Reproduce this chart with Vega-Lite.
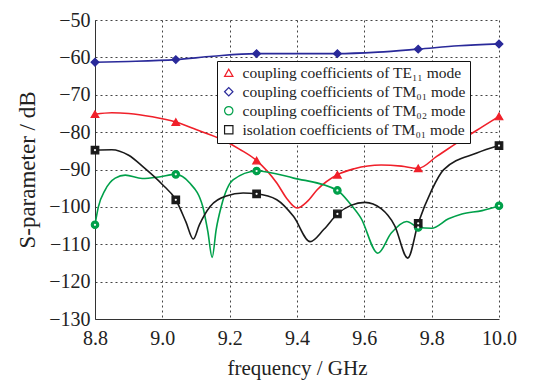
{
  "$schema": "https://vega.github.io/schema/vega-lite/v6.json",
  "width": 404,
  "height": 299,
  "autosize": "none",
  "padding": {"left": 95, "top": 20, "right": 49, "bottom": 66},
  "background": "white",
  "config": {
    "view": {"stroke": null},
    "font": "Liberation Serif"
  },
  "datasets": {
    "curve": [
      {"series": "coupling coefficients of TE₁₁ mode", "f": 8.8, "s": -75.2},
      {"series": "coupling coefficients of TE₁₁ mode", "f": 8.85, "s": -74.8},
      {"series": "coupling coefficients of TE₁₁ mode", "f": 8.9, "s": -75.0},
      {"series": "coupling coefficients of TE₁₁ mode", "f": 8.97, "s": -75.9},
      {"series": "coupling coefficients of TE₁₁ mode", "f": 9.04, "s": -77.3},
      {"series": "coupling coefficients of TE₁₁ mode", "f": 9.1, "s": -79.3},
      {"series": "coupling coefficients of TE₁₁ mode", "f": 9.18, "s": -82.1},
      {"series": "coupling coefficients of TE₁₁ mode", "f": 9.23, "s": -84.6},
      {"series": "coupling coefficients of TE₁₁ mode", "f": 9.28, "s": -87.6},
      {"series": "coupling coefficients of TE₁₁ mode", "f": 9.34, "s": -93.6},
      {"series": "coupling coefficients of TE₁₁ mode", "f": 9.37, "s": -97.8},
      {"series": "coupling coefficients of TE₁₁ mode", "f": 9.4, "s": -100.3},
      {"series": "coupling coefficients of TE₁₁ mode", "f": 9.43, "s": -98.6},
      {"series": "coupling coefficients of TE₁₁ mode", "f": 9.46, "s": -95.4},
      {"series": "coupling coefficients of TE₁₁ mode", "f": 9.52, "s": -91.4},
      {"series": "coupling coefficients of TE₁₁ mode", "f": 9.57, "s": -89.8},
      {"series": "coupling coefficients of TE₁₁ mode", "f": 9.65, "s": -88.8},
      {"series": "coupling coefficients of TE₁₁ mode", "f": 9.71, "s": -89.1},
      {"series": "coupling coefficients of TE₁₁ mode", "f": 9.76, "s": -89.7},
      {"series": "coupling coefficients of TE₁₁ mode", "f": 9.815, "s": -86.5},
      {"series": "coupling coefficients of TE₁₁ mode", "f": 9.89, "s": -82.0},
      {"series": "coupling coefficients of TE₁₁ mode", "f": 9.95, "s": -78.6},
      {"series": "coupling coefficients of TE₁₁ mode", "f": 10.0, "s": -75.8},

      {"series": "coupling coefficients of TM₀₁ mode", "f": 8.8, "s": -61.3},
      {"series": "coupling coefficients of TM₀₁ mode", "f": 8.9, "s": -61.1},
      {"series": "coupling coefficients of TM₀₁ mode", "f": 9.04, "s": -60.6},
      {"series": "coupling coefficients of TM₀₁ mode", "f": 9.15, "s": -59.7},
      {"series": "coupling coefficients of TM₀₁ mode", "f": 9.28, "s": -59.0},
      {"series": "coupling coefficients of TM₀₁ mode", "f": 9.4, "s": -59.0},
      {"series": "coupling coefficients of TM₀₁ mode", "f": 9.52, "s": -59.0},
      {"series": "coupling coefficients of TM₀₁ mode", "f": 9.64, "s": -58.6},
      {"series": "coupling coefficients of TM₀₁ mode", "f": 9.76, "s": -57.8},
      {"series": "coupling coefficients of TM₀₁ mode", "f": 9.88, "s": -56.9},
      {"series": "coupling coefficients of TM₀₁ mode", "f": 10.0, "s": -56.4},

      {"series": "coupling coefficients of TM₀₂ mode", "f": 8.8, "s": -104.8},
      {"series": "coupling coefficients of TM₀₂ mode", "f": 8.81, "s": -100.0},
      {"series": "coupling coefficients of TM₀₂ mode", "f": 8.83, "s": -95.5},
      {"series": "coupling coefficients of TM₀₂ mode", "f": 8.86, "s": -92.3},
      {"series": "coupling coefficients of TM₀₂ mode", "f": 8.89, "s": -91.5},
      {"series": "coupling coefficients of TM₀₂ mode", "f": 8.94, "s": -92.4},
      {"series": "coupling coefficients of TM₀₂ mode", "f": 8.99, "s": -92.0},
      {"series": "coupling coefficients of TM₀₂ mode", "f": 9.04, "s": -91.3},
      {"series": "coupling coefficients of TM₀₂ mode", "f": 9.08, "s": -93.5},
      {"series": "coupling coefficients of TM₀₂ mode", "f": 9.12, "s": -99.9},
      {"series": "coupling coefficients of TM₀₂ mode", "f": 9.135, "s": -106.5},
      {"series": "coupling coefficients of TM₀₂ mode", "f": 9.148, "s": -113.5},
      {"series": "coupling coefficients of TM₀₂ mode", "f": 9.16, "s": -106.0},
      {"series": "coupling coefficients of TM₀₂ mode", "f": 9.175, "s": -99.9},
      {"series": "coupling coefficients of TM₀₂ mode", "f": 9.21, "s": -92.8},
      {"series": "coupling coefficients of TM₀₂ mode", "f": 9.28, "s": -90.4},
      {"series": "coupling coefficients of TM₀₂ mode", "f": 9.39, "s": -92.3},
      {"series": "coupling coefficients of TM₀₂ mode", "f": 9.52, "s": -95.6},
      {"series": "coupling coefficients of TM₀₂ mode", "f": 9.56, "s": -99.4},
      {"series": "coupling coefficients of TM₀₂ mode", "f": 9.59, "s": -103.0},
      {"series": "coupling coefficients of TM₀₂ mode", "f": 9.64, "s": -112.4},
      {"series": "coupling coefficients of TM₀₂ mode", "f": 9.68, "s": -107.0},
      {"series": "coupling coefficients of TM₀₂ mode", "f": 9.726, "s": -103.9},
      {"series": "coupling coefficients of TM₀₂ mode", "f": 9.76, "s": -105.5},
      {"series": "coupling coefficients of TM₀₂ mode", "f": 9.8, "s": -105.7},
      {"series": "coupling coefficients of TM₀₂ mode", "f": 9.85, "s": -103.2},
      {"series": "coupling coefficients of TM₀₂ mode", "f": 9.89, "s": -101.9},
      {"series": "coupling coefficients of TM₀₂ mode", "f": 9.95, "s": -101.0},
      {"series": "coupling coefficients of TM₀₂ mode", "f": 10.0, "s": -99.7},

      {"series": "isolation coefficients of TM₀₁ mode", "f": 8.8, "s": -84.8},
      {"series": "isolation coefficients of TM₀₁ mode", "f": 8.85, "s": -84.7},
      {"series": "isolation coefficients of TM₀₁ mode", "f": 8.9, "s": -86.2},
      {"series": "isolation coefficients of TM₀₁ mode", "f": 8.943, "s": -89.3},
      {"series": "isolation coefficients of TM₀₁ mode", "f": 9.0, "s": -94.0},
      {"series": "isolation coefficients of TM₀₁ mode", "f": 9.04, "s": -98.1},
      {"series": "isolation coefficients of TM₀₁ mode", "f": 9.07, "s": -104.0},
      {"series": "isolation coefficients of TM₀₁ mode", "f": 9.092, "s": -108.6},
      {"series": "isolation coefficients of TM₀₁ mode", "f": 9.11, "s": -104.8},
      {"series": "isolation coefficients of TM₀₁ mode", "f": 9.142, "s": -99.9},
      {"series": "isolation coefficients of TM₀₁ mode", "f": 9.19, "s": -97.1},
      {"series": "isolation coefficients of TM₀₁ mode", "f": 9.24, "s": -96.3},
      {"series": "isolation coefficients of TM₀₁ mode", "f": 9.28, "s": -96.5},
      {"series": "isolation coefficients of TM₀₁ mode", "f": 9.34, "s": -98.1},
      {"series": "isolation coefficients of TM₀₁ mode", "f": 9.39, "s": -102.6},
      {"series": "isolation coefficients of TM₀₁ mode", "f": 9.439, "s": -109.3},
      {"series": "isolation coefficients of TM₀₁ mode", "f": 9.48, "s": -106.0},
      {"series": "isolation coefficients of TM₀₁ mode", "f": 9.52, "s": -101.9},
      {"series": "isolation coefficients of TM₀₁ mode", "f": 9.56, "s": -99.6},
      {"series": "isolation coefficients of TM₀₁ mode", "f": 9.602, "s": -98.8},
      {"series": "isolation coefficients of TM₀₁ mode", "f": 9.65, "s": -100.5},
      {"series": "isolation coefficients of TM₀₁ mode", "f": 9.69, "s": -105.0},
      {"series": "isolation coefficients of TM₀₁ mode", "f": 9.729, "s": -113.7},
      {"series": "isolation coefficients of TM₀₁ mode", "f": 9.76, "s": -104.4},
      {"series": "isolation coefficients of TM₀₁ mode", "f": 9.8, "s": -95.5},
      {"series": "isolation coefficients of TM₀₁ mode", "f": 9.835, "s": -90.1},
      {"series": "isolation coefficients of TM₀₁ mode", "f": 9.934, "s": -85.6},
      {"series": "isolation coefficients of TM₀₁ mode", "f": 10.0, "s": -83.6}
    ],
    "markers": [
      {"series": "coupling coefficients of TE₁₁ mode", "f": 8.8, "s": -75.2},
      {"series": "coupling coefficients of TE₁₁ mode", "f": 9.04, "s": -77.3},
      {"series": "coupling coefficients of TE₁₁ mode", "f": 9.28, "s": -87.6},
      {"series": "coupling coefficients of TE₁₁ mode", "f": 9.52, "s": -91.4},
      {"series": "coupling coefficients of TE₁₁ mode", "f": 9.76, "s": -89.7},
      {"series": "coupling coefficients of TE₁₁ mode", "f": 10.0, "s": -75.8},
      {"series": "coupling coefficients of TM₀₁ mode", "f": 8.8, "s": -61.3},
      {"series": "coupling coefficients of TM₀₁ mode", "f": 9.04, "s": -60.6},
      {"series": "coupling coefficients of TM₀₁ mode", "f": 9.28, "s": -59.0},
      {"series": "coupling coefficients of TM₀₁ mode", "f": 9.52, "s": -59.0},
      {"series": "coupling coefficients of TM₀₁ mode", "f": 9.76, "s": -57.8},
      {"series": "coupling coefficients of TM₀₁ mode", "f": 10.0, "s": -56.4},
      {"series": "coupling coefficients of TM₀₂ mode", "f": 8.8, "s": -104.8},
      {"series": "coupling coefficients of TM₀₂ mode", "f": 9.04, "s": -91.3},
      {"series": "coupling coefficients of TM₀₂ mode", "f": 9.28, "s": -90.4},
      {"series": "coupling coefficients of TM₀₂ mode", "f": 9.52, "s": -95.6},
      {"series": "coupling coefficients of TM₀₂ mode", "f": 9.76, "s": -105.5},
      {"series": "coupling coefficients of TM₀₂ mode", "f": 10.0, "s": -99.7},
      {"series": "isolation coefficients of TM₀₁ mode", "f": 8.8, "s": -84.8},
      {"series": "isolation coefficients of TM₀₁ mode", "f": 9.04, "s": -98.1},
      {"series": "isolation coefficients of TM₀₁ mode", "f": 9.28, "s": -96.5},
      {"series": "isolation coefficients of TM₀₁ mode", "f": 9.52, "s": -101.9},
      {"series": "isolation coefficients of TM₀₁ mode", "f": 9.76, "s": -104.4},
      {"series": "isolation coefficients of TM₀₁ mode", "f": 10.0, "s": -83.6}
    ]
  },
  "encoding": {
    "x": {
      "field": "f", "type": "quantitative",
      "scale": {"domain": [8.8, 10.0], "nice": false, "zero": false},
      "axis": {
        "values": [8.8, 9.0, 9.2, 9.4, 9.6, 9.8, 10.0],
        "format": ".1f",
        "title": "frequency / GHz",
        "titleFont": "Liberation Serif", "titleFontSize": 21, "titleFontWeight": "normal", "titleColor": "#222",
        "titlePadding": 9,
        "labelFont": "Liberation Serif", "labelFontSize": 20, "labelColor": "#222", "labelPadding": 9,
        "labelFlush": false, "labelOverlap": false,
        "ticks": false, "domainColor": "#333", "domainWidth": 1,
        "grid": true, "gridColor": "#444", "gridDash": [2, 3], "gridWidth": 1
      }
    },
    "y": {
      "field": "s", "type": "quantitative",
      "scale": {"domain": [-130, -50], "nice": false, "zero": false},
      "axis": {
        "values": [-130, -120, -110, -100, -90, -80, -70, -60, -50],
        "title": "S-parameter / dB",
        "titleFont": "Liberation Serif", "titleFontSize": 23, "titleFontWeight": "normal", "titleColor": "#222",
        "titlePadding": 9,
        "labelFont": "Liberation Serif", "labelFontSize": 20, "labelColor": "#222", "labelPadding": 5,
        "labelFlush": false, "labelOverlap": false,
        "ticks": false, "domainColor": "#333", "domainWidth": 1,
        "grid": true, "gridColor": "#444", "gridDash": [2, 3], "gridWidth": 1
      }
    }
  },
  "layer": [
    {
      "data": {"name": "curve"},
      "mark": {"type": "line", "interpolate": "monotone", "strokeWidth": 1.6},
      "encoding": {
        "color": {
          "field": "series", "type": "nominal",
          "legend": null,
          "scale": {
            "domain": ["coupling coefficients of TM₀₁ mode", "coupling coefficients of TE₁₁ mode", "isolation coefficients of TM₀₁ mode", "coupling coefficients of TM₀₂ mode"],
            "range": ["#2a2a9a", "#f0202a", "#1a1a1a", "#00a04a"]
          }
        },
        "detail": {"field": "series"}
      }
    },
    {
      "data": {"name": "markers"},
      "mark": {"type": "point", "filled": true, "opacity": 1, "strokeWidth": 1.2},
      "encoding": {
        "stroke": {
          "field": "series", "type": "nominal",
          "scale": {
            "domain": ["coupling coefficients of TE₁₁ mode", "coupling coefficients of TM₀₁ mode", "coupling coefficients of TM₀₂ mode", "isolation coefficients of TM₀₁ mode"],
            "range": ["#f0202a", "#2a2a9a", "#00a04a", "#1a1a1a"]
          },
          "legend": {
            "orient": "none", "legendX": 122, "legendY": 41,
            "title": null,
            "strokeColor": "#111", "fillColor": "white", "padding": 4,
            "labelFont": "Liberation Serif", "labelFontSize": 15.5, "labelColor": "#222", "labelLimit": 300, "labelOffset": 6,
            "rowPadding": 2, "symbolSize": 70, "symbolStrokeWidth": 1.2, "symbolFillColor": "white"
          }
        },
        "fill": {
          "field": "series", "type": "nominal",
          "legend": null,
          "scale": {
            "domain": ["isolation coefficients of TM₀₁ mode", "coupling coefficients of TM₀₂ mode", "coupling coefficients of TM₀₁ mode", "coupling coefficients of TE₁₁ mode"],
            "range": ["#1a1a1a", "#00a04a", "#2a2a9a", "#f0202a"]
          }
        },
        "shape": {
          "field": "series", "type": "nominal",
          "scale": {
            "domain": ["coupling coefficients of TE₁₁ mode", "coupling coefficients of TM₀₁ mode", "coupling coefficients of TM₀₂ mode", "isolation coefficients of TM₀₁ mode"],
            "range": ["triangle-up", "diamond", "circle", "square"]
          },
          "legend": {
            "orient": "none", "legendX": 122, "legendY": 41,
            "title": null,
            "strokeColor": "#111", "fillColor": "white", "padding": 4,
            "labelFont": "Liberation Serif", "labelFontSize": 15.5, "labelColor": "#222", "labelLimit": 300, "labelOffset": 6,
            "rowPadding": 2, "symbolSize": 70, "symbolStrokeWidth": 1.2, "symbolFillColor": "white"
          }
        },
        "size": {
          "field": "series", "type": "nominal",
          "legend": null,
          "scale": {
            "domain": ["coupling coefficients of TM₀₂ mode", "isolation coefficients of TM₀₁ mode", "coupling coefficients of TE₁₁ mode", "coupling coefficients of TM₀₁ mode"],
            "range": [55, 60, 110, 85]
          }
        }
      }
    },
    {
      "data": {"name": "markers"},
      "transform": [{"filter": "datum.series === 'coupling coefficients of TM₀₂ mode' || datum.series === 'isolation coefficients of TM₀₁ mode'"}],
      "mark": {"type": "point", "filled": true, "color": "white", "size": 5, "opacity": 1}
    }
  ]
}
